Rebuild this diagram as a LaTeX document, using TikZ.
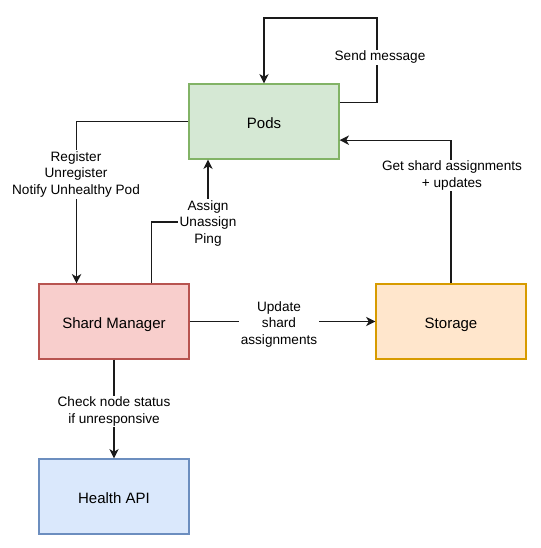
\documentclass[tikz,border=0pt]{standalone}
\usepackage{fontspec}
\setmainfont{Liberation Sans}
\usetikzlibrary{arrows.meta}
\definecolor{podsfill}{HTML}{D5E8D4}
\definecolor{podsline}{HTML}{82B366}
\definecolor{smfill}{HTML}{F8CECC}
\definecolor{smline}{HTML}{B85450}
\definecolor{storefill}{HTML}{FFE6CC}
\definecolor{storeline}{HTML}{D79B00}
\definecolor{apifill}{HTML}{DAE8FC}
\definecolor{apiline}{HTML}{6C8EBF}
\definecolor{edge}{HTML}{1A1A1A}

\begin{document}
\begin{tikzpicture}[x=0.75pt, y=-0.75pt,
    box/.style={draw, line width=0.9pt, minimum width=112.5pt, minimum height=56.25pt,
        inner sep=0pt, text height=10pt, text depth=0pt, font=\fontsize{11.25}{13}\selectfont},
    flow/.style={draw=edge, line width=0.9pt, -{Stealth[length=7pt, width=7pt, inset=2pt]}},
    lbl/.style={fill=white, inner sep=1pt, align=center, yshift=-1.1pt, font=\fontsize{10.2}{12.4}\selectfont}]
    \useasboundingbox (0,0) rectangle (540,548);
    \node[box, fill=podsfill, draw=podsline] (pods) at (264,121.5) {Pods};
    \node[box, fill=smfill, draw=smline] (sm) at (114,321.5) {Shard Manager};
    \node[box, fill=storefill, draw=storeline] (store) at (451,321.5) {Storage};
    \node[box, fill=apifill, draw=apiline] (api) at (114,496.5) {Health API};
    \coordinate (loop) at (377,18);
    \coordinate (bend) at (208,222);
    \draw[flow] ([yshift=14pt]pods.east) -| (loop) -| (pods.north);
    \draw[flow] (pods.west) -| ([xshift=-28.1pt]sm.north);
    \draw[flow] ([xshift=28.1pt]sm.north) |- (bend) -- ([xshift=-42pt]pods.south);
    \draw[flow] (sm) -- (store);
    \draw[flow] (store.north) |- ([yshift=-14pt]pods.east);
    \draw[flow] (sm) -- (api);
    \node[lbl] (send) at (380,56) {Send message};
    \node[lbl] (reg) at (76,173) {Register\\Unregister\\Notify Unhealthy Pod};
    \node[lbl] (assign) at (208,222) {Assign\\Unassign\\Ping};
    \node[lbl] (upd) at (279,323) {Update\\shard\\assignments};
    \node[lbl] (get) at (452,174) {Get shard assignments\\+ updates};
    \node[lbl] (check) at (114,410) {Check node status\\if unresponsive};
\end{tikzpicture}
\end{document}
